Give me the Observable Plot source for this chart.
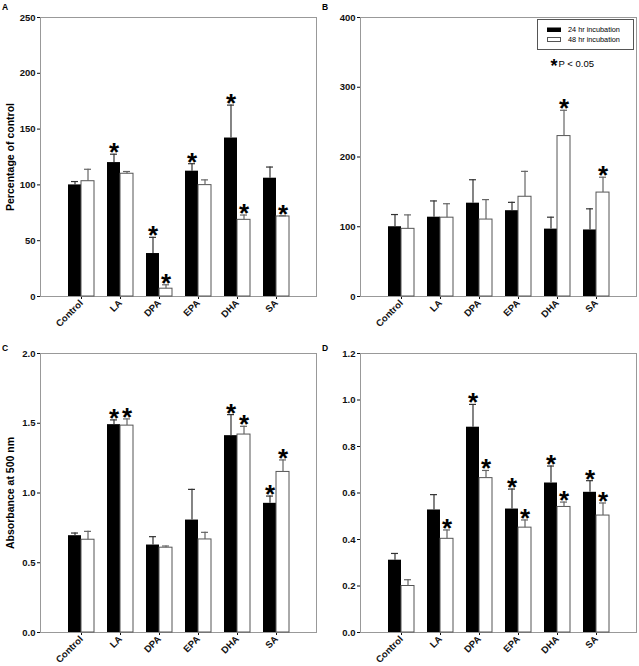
<!DOCTYPE html>
<html><head><meta charset="utf-8">
<script src="https://cdn.jsdelivr.net/npm/d3@7"></script>
<script src="https://cdn.jsdelivr.net/npm/@observablehq/plot@0.6"></script>
<style>
body{margin:0;background:#fff;font-family:"Liberation Sans",Arial,sans-serif;}
#wrap{position:relative;width:639px;height:666px;overflow:hidden;background:#fff;}
#wrap > svg.panel{position:absolute;}
#overlay{position:absolute;left:0;top:0;pointer-events:none;}
</style></head><body><div id="wrap"></div>
<script>
const categories = ["Control", "LA", "DPA", "EPA", "DHA", "SA"];
const seriesNames = ["24 hr incubation", "48 hr incubation"];
const sigLabel = "P < 0.05";

// Panel A: Percentage of control
const aMean24 = [100, 120, 38.5, 112.3, 142, 106];
const aSem24  = [3, 7.5, 14.5, 6.7, 29.5, 10];
const aSig24  = [0, 1, 1, 1, 1, 0];
const aMean48 = [103.3, 110, 7, 99.8, 68.7, 71.7];
const aSem48  = [10.7, 2, 3.5, 4.7, 4.3, 0.6];
const aSig48  = [0, 0, 1, 0, 1, 1];
const aTicks  = [0, 50, 100, 150, 200, 250];

// Panel B
const bMean24 = [100, 113.7, 133.8, 123, 96.6, 95.4];
const bSem24  = [17.5, 23.3, 33.6, 12, 17.1, 30.3];
const bSig24  = [0, 0, 0, 0, 0, 0];
const bMean48 = [97, 113, 110.3, 143, 230, 149];
const bSem48  = [20, 20, 28.6, 36.4, 37, 22];
const bSig48  = [0, 0, 0, 0, 1, 1];
const bTicks  = [0, 100, 200, 300, 400];

// Panel C: Absorbance at 500 nm
const cMean24 = [0.694, 1.49, 0.627, 0.806, 1.411, 0.926];
const cSem24  = [0.019, 0.034, 0.06, 0.22, 0.151, 0.052];
const cSig24  = [0, 1, 0, 0, 1, 1];
const cMean48 = [0.665, 1.483, 0.608, 0.667, 1.419, 1.151];
const cSem48  = [0.06, 0.048, 0.012, 0.051, 0.059, 0.086];
const cSig48  = [0, 1, 0, 0, 1, 1];
const cTicks  = [0, 0.5, 1.0, 1.5, 2.0];

// Panel D
const dMean24 = [0.311, 0.527, 0.883, 0.531, 0.643, 0.603];
const dSem24  = [0.029, 0.066, 0.098, 0.086, 0.073, 0.05];
const dSig24  = [0, 0, 1, 1, 1, 1];
const dMean48 = [0.2, 0.403, 0.664, 0.451, 0.54, 0.503];
const dSem48  = [0.027, 0.038, 0.033, 0.033, 0.021, 0.054];
const dSig48  = [0, 1, 1, 1, 1, 1];
const dTicks  = [0, 0.2, 0.4, 0.6, 0.8, 1.0, 1.2];

const FONT = "Liberation Sans, Arial, sans-serif";

function panel(o) {
  const pi = 0.34, po = 0.67, n = categories.length;
  const step = (o.width - o.ml - o.mr) / (n - pi + 2 * po);
  const bw = step * (1 - pi);
  const cap = 3.5;
  const rows = categories.map((c, i) => ({
    cat: c,
    m24: o.m24[i], e24: o.m24[i] + o.s24[i], g24: o.g24[i],
    m48: o.m48[i], e48: o.m48[i] + o.s48[i], g48: o.g48[i]
  }));
  const star = {text: () => "*", fontSize: 26, fontWeight: "bold", lineAnchor: "bottom", fill: "#000", fontFamily: FONT};
  const marks = [
    Plot.frame({stroke: "#999"}),
    Plot.barY(rows, {x: "cat", y: "m24", fill: "#000", insetRight: bw / 2}),
    Plot.barY(rows, {x: "cat", y: "m48", fill: "#fff", stroke: "#555", strokeWidth: 1, insetLeft: bw / 2}),
    Plot.ruleX(rows, {x: "cat", y1: "m24", y2: "e24", dx: -bw / 4, stroke: "#333", strokeWidth: 1.2}),
    Plot.tickY(rows, {x: "cat", y: "e24", insetLeft: bw / 4 - cap, insetRight: 3 * bw / 4 - cap, stroke: "#333", strokeWidth: 1.2}),
    Plot.ruleX(rows, {x: "cat", y1: "m48", y2: "e48", dx: bw / 4, stroke: "#666", strokeWidth: 1.2}),
    Plot.tickY(rows, {x: "cat", y: "e48", insetLeft: 3 * bw / 4 - cap, insetRight: bw / 4 - cap, stroke: "#666", strokeWidth: 1.2}),
    Plot.text(rows.filter(d => d.g24), {...star, x: "cat", y: "e24", dx: -bw / 4, dy: 7}),
    Plot.text(rows.filter(d => d.g48), {...star, x: "cat", y: "e48", dx: bw / 4, dy: 7})
  ];
  if (o.label) {
    marks.push(Plot.text([o.label], {frameAnchor: "left", textAnchor: "middle", rotate: -90, dx: -30, fontSize: 10.5, fontWeight: "bold", fill: "#000", fontFamily: FONT}));
  }
  const svg = Plot.plot({
    width: o.width, height: o.height,
    marginLeft: o.ml, marginRight: o.mr, marginTop: o.mt, marginBottom: o.mb,
    style: {fontFamily: FONT, fontSize: "9.5px", fontWeight: "bold", color: "#111", background: "transparent", overflow: "visible"},
    x: {type: "band", domain: categories, paddingInner: pi, paddingOuter: po, tickRotate: -45, tickSize: 3, tickPadding: 2, label: null, line: true},
    y: {domain: o.domain, ticks: o.ticks, tickFormat: o.fmt, tickSize: 3, tickPadding: 2, label: null, line: true},
    marks
  });
  svg.classList.add("panel");
  svg.style.left = o.left + "px";
  svg.style.top = o.top + "px";
  return svg;
}

const wrap = document.getElementById("wrap");
wrap.appendChild(panel({left: 0, top: 0, width: 320, height: 333, ml: 40, mr: 4, mt: 17, mb: 37,
  domain: [0, 250], ticks: aTicks, fmt: d3.format("d"), label: "Percentage of control",
  m24: aMean24, s24: aSem24, g24: aSig24, m48: aMean48, s48: aSem48, g48: aSig48}));
wrap.appendChild(panel({left: 320, top: 0, width: 319, height: 333, ml: 40, mr: 3, mt: 17, mb: 37,
  domain: [0, 400], ticks: bTicks, fmt: d3.format("d"), label: null,
  m24: bMean24, s24: bSem24, g24: bSig24, m48: bMean48, s48: bSem48, g48: bSig48}));
wrap.appendChild(panel({left: 0, top: 333, width: 320, height: 333, ml: 40, mr: 4, mt: 20, mb: 34,
  domain: [0, 2], ticks: cTicks, fmt: d3.format(".1f"), label: "Absorbance at 500 nm",
  m24: cMean24, s24: cSem24, g24: cSig24, m48: cMean48, s48: cSem48, g48: cSig48}));
wrap.appendChild(panel({left: 320, top: 333, width: 319, height: 333, ml: 40, mr: 3, mt: 20, mb: 34,
  domain: [0, 1.2], ticks: dTicks, fmt: d3.format(".1f"), label: null,
  m24: dMean24, s24: dSem24, g24: dSig24, m48: dMean48, s48: dSem48, g48: dSig48}));

// overlay: panel letters and legend
const ov = d3.select(wrap).append("svg").attr("id", "overlay").attr("width", 639).attr("height", 666)
  .style("font-family", FONT);
[["A", 2, 9.5], ["B", 322, 9.5], ["C", 2, 350.5], ["D", 322, 350.5]].forEach(([t, x, y]) =>
  ov.append("text").attr("x", x).attr("y", y).attr("font-size", 8.5).attr("font-weight", "bold").text(t));
const lg = ov.append("g");
lg.append("rect").attr("x", 537.5).attr("y", 19.5).attr("width", 96).attr("height", 30).attr("fill", "#fff").attr("stroke", "#555");
lg.append("rect").attr("x", 547).attr("y", 27.5).attr("width", 14).attr("height", 4.5).attr("fill", "#000");
lg.append("rect").attr("x", 547.5).attr("y", 37.5).attr("width", 13).attr("height", 4).attr("fill", "#fff").attr("stroke", "#555");
lg.append("text").attr("x", 568).attr("y", 32).attr("font-size", 7.3).text(seriesNames[0]);
lg.append("text").attr("x", 568).attr("y", 42).attr("font-size", 7.3).text(seriesNames[1]);
lg.append("text").attr("x", 550.5).attr("y", 72).attr("font-size", 18).attr("font-weight", "bold").text("*");
lg.append("text").attr("x", 558.5).attr("y", 67).attr("font-size", 9.5).text(sigLabel);
</script></body></html>
